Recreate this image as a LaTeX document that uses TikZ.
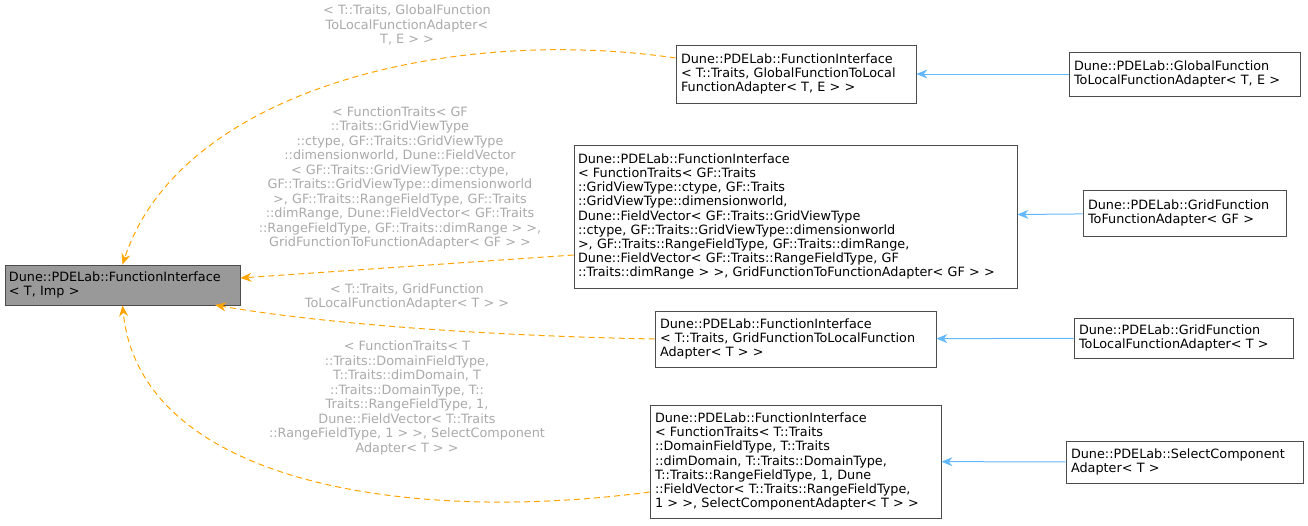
\documentclass[tikz,border=0pt]{standalone}
\usepackage{fontspec}
\setmainfont{DejaVu Sans}
\usetikzlibrary{arrows.meta}
\definecolor{edgeo}{HTML}{FFA500}
\definecolor{edgeb}{HTML}{63B8FF}
\definecolor{lbl}{HTML}{AAAAAA}
\begin{document}
\begin{tikzpicture}[x=1pt,y=-1pt,
  box/.style={draw=black!70,line width=0.8pt,align=left,inner sep=0pt,font=\fontsize{12.8}{14.2}\selectfont},
  lab/.style={align=center,text=lbl,inner sep=0pt,font=\fontsize{12.8}{14.5}\selectfont},
  tmpl/.style={edgeo,line width=1pt,dash pattern=on 6pt off 4pt,-{Stealth[length=11pt,width=9pt]}},
  inh/.style={edgeb,line width=1pt,-{Stealth[length=11pt,width=9pt]}}]
\useasboundingbox (0,0) rectangle (1308,525);
\node[box,fill=black!40,minimum width=235,minimum height=40,text width=227] (B) at (122.5,285) {Dune::PDELab::FunctionInterface\\\hspace*{0pt}< T, Imp >};
\node[box,minimum width=240,minimum height=58,text width=230] (N1) at (796,74) {Dune::PDELab::FunctionInterface\\< T::Traits, GlobalFunctionToLocal\\FunctionAdapter< T, E > >};
\node[box,minimum width=443,minimum height=143,text width=435] (N2) at (795.5,216.5) {Dune::PDELab::FunctionInterface\\< FunctionTraits< GF::Traits\\::GridViewType::ctype, GF::Traits\\::GridViewType::dimensionworld,\\ Dune::FieldVector< GF::Traits::GridViewType\\::ctype, GF::Traits::GridViewType::dimensionworld\\ >, GF::Traits::RangeFieldType, GF::Traits::dimRange,\\ Dune::FieldVector< GF::Traits::RangeFieldType, GF\\::Traits::dimRange > >, GridFunctionToFunctionAdapter< GF > >};
\node[box,minimum width=281,minimum height=56,text width=271] (N3) at (795.5,339) {Dune::PDELab::FunctionInterface\\< T::Traits, GridFunctionToLocalFunction\\Adapter< T > >};
\node[box,minimum width=291,minimum height=113,text width=281] (N4) at (795.5,461.5) {Dune::PDELab::FunctionInterface\\< FunctionTraits< T::Traits\\::DomainFieldType, T::Traits\\::dimDomain, T::Traits::DomainType,\\ T::Traits::RangeFieldType, 1, Dune\\::FieldVector< T::Traits::RangeFieldType,\\ 1 > >, SelectComponentAdapter< T > >};
\node[box,minimum width=231,minimum height=44,text width=221] (R1) at (1184.5,74) {Dune::PDELab::GlobalFunction\\ToLocalFunctionAdapter< T, E >};
\node[box,minimum width=203,minimum height=46,text width=193] (R2) at (1184.5,213) {Dune::PDELab::GridFunction\\ToFunctionAdapter< GF >};
\node[box,minimum width=219,minimum height=40,text width=209] (R3) at (1183.5,338) {Dune::PDELab::GridFunction\\ToLocalFunctionAdapter< T >};
\node[box,minimum width=237,minimum height=42,text width=227] (R4) at (1184.5,462) {Dune::PDELab::SelectComponent\\Adapter< T >};
\draw[inh] (R1) -- (N1);
\draw[inh] (R2) -- (N2);
\draw[inh] (R3) -- (N3);
\draw[inh] (R4) -- (N4);
\draw[tmpl] (N1.west|-0,58) .. controls (450,25) and (180,90) .. (B.north);
\draw[tmpl] (N2.west|-0,255) -- (B.east|-0,278);
\draw[tmpl] (N3.west) .. controls (450,335) and (300,320) .. (215,305);
\draw[tmpl] (N4.west|-0,492) .. controls (400,525) and (140,480) .. (B.south);
\node[lab] (L1) at (407,25) {< T::Traits, GlobalFunction\\ToLocalFunctionAdapter<\\ T, E > >};
\node[lab] (L2) at (400,178) {< FunctionTraits< GF\\::Traits::GridViewType\\::ctype, GF::Traits::GridViewType\\::dimensionworld, Dune::FieldVector\\< GF::Traits::GridViewType::ctype,\\ GF::Traits::GridViewType::dimensionworld\\ >, GF::Traits::RangeFieldType, GF::Traits\\::dimRange, Dune::FieldVector< GF::Traits\\::RangeFieldType, GF::Traits::dimRange > >,\\ GridFunctionToFunctionAdapter< GF > >};
\node[lab] (L3) at (407,297) {< T::Traits, GridFunction\\ToLocalFunctionAdapter< T > >};
\node[lab] (L4) at (407,398) {< FunctionTraits< T\\::Traits::DomainFieldType,\\ T::Traits::dimDomain, T\\::Traits::DomainType, T::\\Traits::RangeFieldType, 1,\\ Dune::FieldVector< T::Traits\\::RangeFieldType, 1 > >, SelectComponent\\Adapter< T > >};
\end{tikzpicture}
\end{document}
